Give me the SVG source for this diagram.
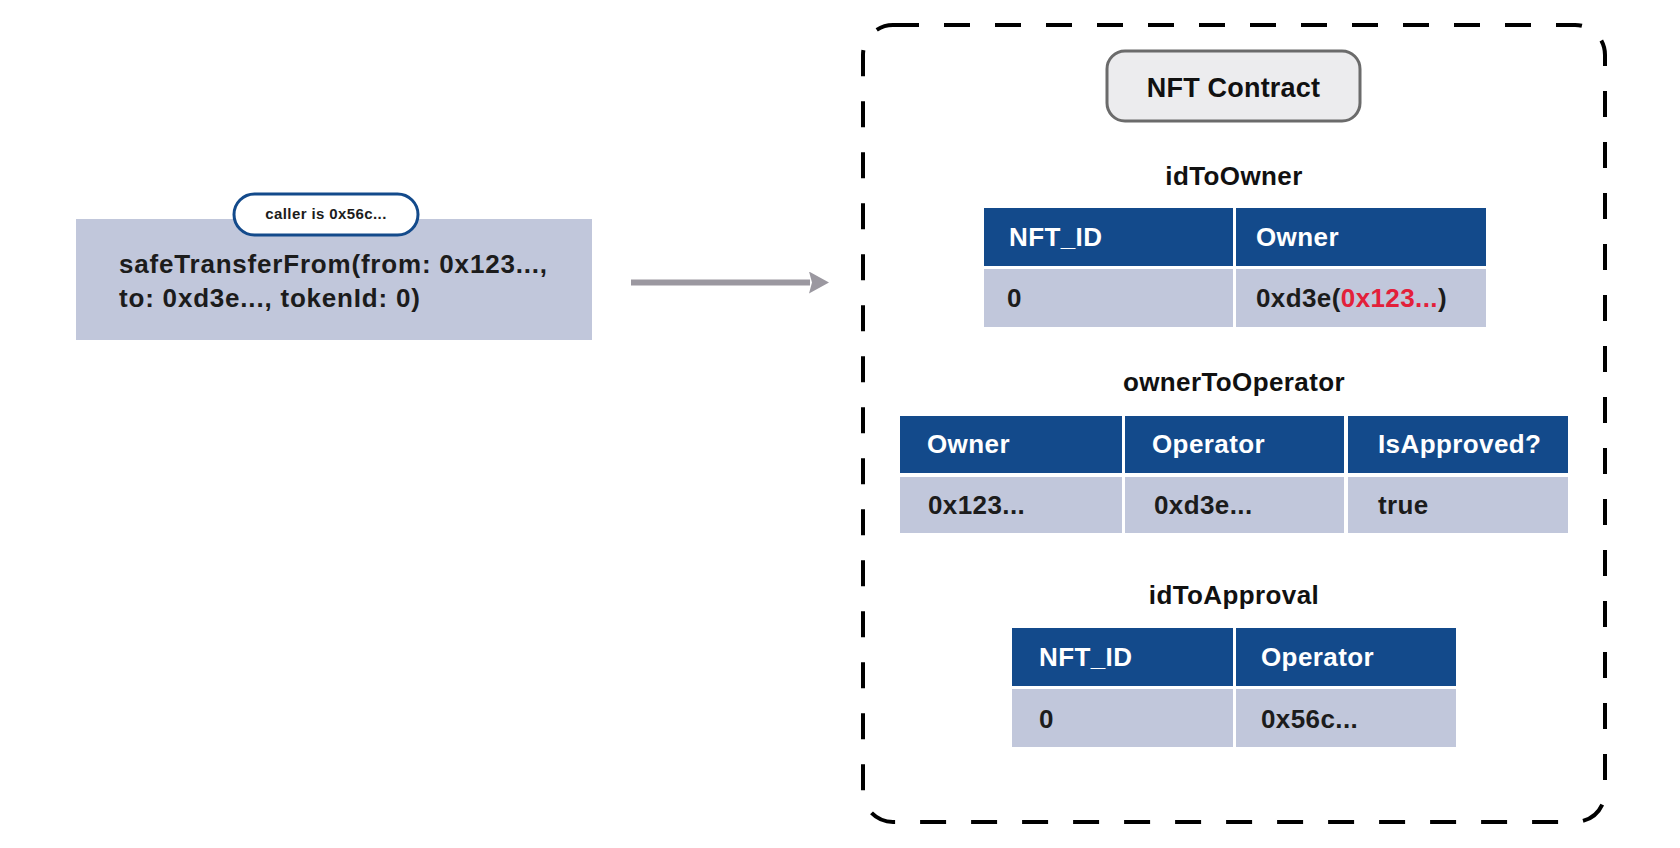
<svg xmlns="http://www.w3.org/2000/svg" width="1680" height="848" viewBox="0 0 1680 848">
  <style>
    text { font-family: "Liberation Sans", Arial, sans-serif; font-weight: bold; }
    .hdr { fill: #134a8b; }
    .cell { fill: #c1c7db; }
    .ht { fill: #ffffff; font-size: 26px; letter-spacing: 0.4px; }
    .dt { fill: #1c1c1c; font-size: 26px; letter-spacing: 0.4px; }
    .title { fill: #111111; font-size: 26px; letter-spacing: 0.4px; text-anchor: middle; }
    .red { fill: #e3203a; }
  </style>
  <defs>
    <marker id="arrow" viewBox="0 0 20 22" refX="1" refY="11" markerWidth="20" markerHeight="22" markerUnits="userSpaceOnUse" orient="auto">
      <path d="M0,0 L20,11 L0,22 L3,11 Z" fill="#9b98a0"/>
    </marker>
  </defs>
  <rect width="1680" height="848" fill="#ffffff"/>

  <g id="call">
    <rect x="76" y="219" width="516" height="121" fill="#c1c7db"/>
    <text x="119" y="273" fill="#1c1c1c" font-size="26" letter-spacing="0.8">safeTransferFrom(from: 0x123...,</text>
    <text x="119" y="307" fill="#1c1c1c" font-size="26" letter-spacing="0.8">to: 0xd3e..., tokenId: 0)</text>
  </g>

  <g id="caller">
    <rect x="234" y="194" width="184" height="41" rx="20.5" fill="#ffffff" stroke="#134a8b" stroke-width="3"/>
    <text x="326" y="219" fill="#1c1c1c" font-size="15" letter-spacing="0.4" text-anchor="middle">caller is 0x56c...</text>
  </g>

  <g id="connectors">
    <line x1="631" y1="282.5" x2="810" y2="282.5" stroke="#9b98a0" stroke-width="6" marker-end="url(#arrow)"/>
  </g>

  <g id="contract-boundary">
    <rect x="863" y="25" width="742" height="797" rx="30" fill="none" stroke="#000000" stroke-width="4" stroke-dasharray="26 25"/>
  </g>

  <g id="nft-contract">
    <rect x="1107" y="51" width="253" height="70" rx="18" fill="#ececee" stroke="#6b6b6b" stroke-width="3"/>
    <text x="1233.5" y="97" fill="#111111" font-size="27" letter-spacing="0.2" text-anchor="middle">NFT Contract</text>
  </g>

  <g id="idToOwner">
    <text class="title" x="1234" y="185">idToOwner</text>
    <rect class="hdr" x="984" y="208" width="249" height="58"/>
    <rect class="hdr" x="1236" y="208" width="250" height="58"/>
    <rect class="cell" x="984" y="269" width="249" height="58"/>
    <rect class="cell" x="1236" y="269" width="250" height="58"/>
    <text class="ht" x="1009" y="246">NFT_ID</text>
    <text class="ht" x="1256" y="246">Owner</text>
    <text class="dt" x="1007" y="307">0</text>
    <text class="dt" x="1256" y="307">0xd3e(<tspan class="red">0x123...</tspan>)</text>
  </g>

  <g id="ownerToOperator">
    <text class="title" x="1234" y="391">ownerToOperator</text>
    <rect class="hdr" x="900" y="416" width="222" height="57"/>
    <rect class="hdr" x="1125" y="416" width="219" height="57"/>
    <rect class="hdr" x="1348" y="416" width="220" height="57"/>
    <rect class="cell" x="900" y="477" width="222" height="56"/>
    <rect class="cell" x="1125" y="477" width="219" height="56"/>
    <rect class="cell" x="1348" y="477" width="220" height="56"/>
    <text class="ht" x="927" y="453">Owner</text>
    <text class="ht" x="1152" y="453">Operator</text>
    <text class="ht" x="1378" y="453">IsApproved?</text>
    <text class="dt" x="928" y="514">0x123...</text>
    <text class="dt" x="1154" y="514">0xd3e...</text>
    <text class="dt" x="1378" y="514">true</text>
  </g>

  <g id="idToApproval">
    <text class="title" x="1234" y="604">idToApproval</text>
    <rect class="hdr" x="1012" y="628" width="221" height="58"/>
    <rect class="hdr" x="1236" y="628" width="220" height="58"/>
    <rect class="cell" x="1012" y="689" width="221" height="58"/>
    <rect class="cell" x="1236" y="689" width="220" height="58"/>
    <text class="ht" x="1039" y="666">NFT_ID</text>
    <text class="ht" x="1261" y="666">Operator</text>
    <text class="dt" x="1039" y="728">0</text>
    <text class="dt" x="1261" y="728">0x56c...</text>
  </g>
</svg>
